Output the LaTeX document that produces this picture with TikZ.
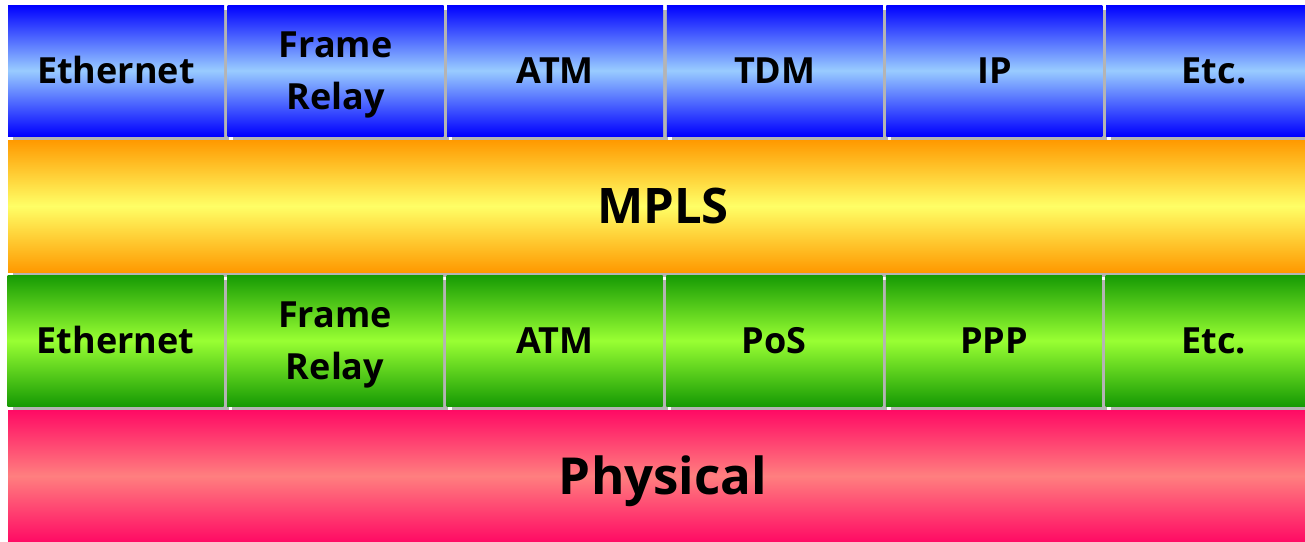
\documentclass[tikz,border=0pt]{standalone}
\usepackage{fontspec}
\setmainfont{Open Sans}
\usetikzlibrary{shadows}
\definecolor{shadowgray}{HTML}{B4B4B4}
\definecolor{blueedge}{HTML}{0000FF}
\definecolor{bluemid}{HTML}{99CCFF}
\definecolor{orangeedge}{HTML}{FF9900}
\definecolor{yellowmid}{HTML}{FFFF66}
\definecolor{greenedge}{HTML}{169A04}
\definecolor{greenmid}{HTML}{99FF33}
\definecolor{pinkedge}{HTML}{FF0A64}
\definecolor{pinkmid}{HTML}{FF7F7F}
\tikzset{
  layerbox/.style={rectangle, inner sep=0pt, align=center, text=black,
    general shadow={shadow xshift=5pt, shadow yshift=-5pt, fill=shadowgray}},
  oneline/.style={text height=26pt, text depth=0pt},
  twoline/.style={text height=78pt, text depth=0pt},
  cell/.style={layerbox, minimum width=216pt, minimum height=131pt,
    font=\fontsize{36}{52}\selectfont\bfseries},
  bluecell/.style={cell, top color=blueedge, bottom color=blueedge, middle color=bluemid},
  greencell/.style={cell, top color=greenedge, bottom color=greenedge, middle color=greenmid},
  mplsband/.style={layerbox, text height=35pt, text depth=0pt, minimum width=1310pt, minimum height=132pt,
    top color=orangeedge, bottom color=orangeedge, middle color=yellowmid,
    font=\fontsize{49}{58}\selectfont\bfseries},
  physband/.style={layerbox, text height=36.5pt, text depth=0pt, minimum width=1310pt, minimum height=132pt,
    top color=pinkedge, bottom color=pinkedge, middle color=pinkmid,
    font=\fontsize{51}{60}\selectfont\bfseries}
}
\begin{document}
\begin{tikzpicture}[x=1pt,y=-1pt]
\useasboundingbox (0,0) rectangle (1305,541);
\clip (0,0) rectangle (1305,541);
\fill[white] (0,0) rectangle (1305,541);
% top row
\node[bluecell, oneline] (t1) at (116,70.5) {Ethernet};
\node[bluecell, twoline] (t2) at (335.6,70.5) {Frame\\Relay};
\node[bluecell, oneline] (t3) at (555.2,70.5) {ATM};
\node[bluecell, oneline] (t4) at (774.8,70.5) {TDM};
\node[bluecell, oneline] (t5) at (994.4,70.5) {IP};
\node[bluecell, oneline] (t6) at (1214,70.5) {Etc.};
% MPLS
\node[mplsband] (mpls) at (663,206) {MPLS};
% link layer row
\node[greencell, oneline] (g1) at (115.5,340.5) {Ethernet};
\node[greencell, twoline] (g2) at (335.1,340.5) {Frame\\Relay};
\node[greencell, oneline] (g3) at (554.7,340.5) {ATM};
\node[greencell, oneline] (g4) at (774.3,340.5) {PoS};
\node[greencell, oneline] (g5) at (993.9,340.5) {PPP};
\node[greencell, oneline] (g6) at (1213.5,340.5) {Etc.};
% physical
\node[physband] (phys) at (663,476) {Physical};
\end{tikzpicture}
\end{document}
